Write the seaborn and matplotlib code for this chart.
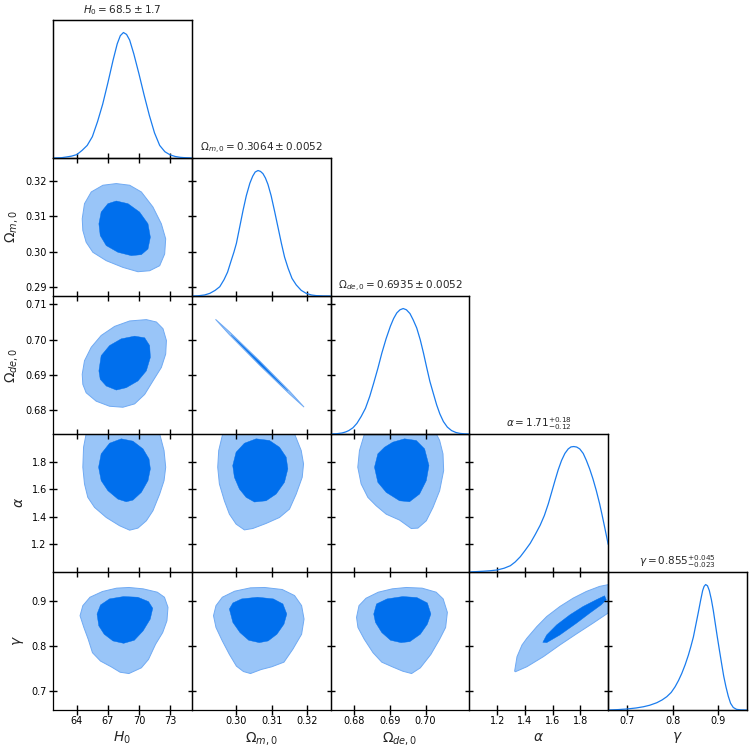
# %%
import matplotlib
matplotlib.use("Agg")
import matplotlib.pyplot as plt
import seaborn as sns

# %%
# parameters, labels and the values
labels = [r"$H_0$", r"$\Omega_{m,0}$", r"$\Omega_{de,0}$", r"$\alpha$", r"$\gamma$"]
titles = [
    r"$H_0 = 68.5\pm 1.7$",
    r"$\Omega_{m,0} = 0.3064\pm 0.0052$",
    r"$\Omega_{de,0} = 0.6935\pm 0.0052$",
    r"$\alpha = 1.71^{+0.18}_{-0.12}$",
    r"$\gamma = 0.855^{+0.045}_{-0.023}$",
]
limits = [(61.7, 75.1), (0.2874, 0.3266), (0.6733, 0.7123), (1.0, 2.0), (0.659, 0.963)]
xticks = [[64, 67, 70, 73], [0.30, 0.31, 0.32], [0.68, 0.69, 0.70], [1.2, 1.4, 1.6, 1.8], [0.7, 0.8, 0.9]]
yticks = [[64, 67, 70, 73], [0.29, 0.30, 0.31, 0.32], [0.68, 0.69, 0.70, 0.71], [1.2, 1.4, 1.6, 1.8], [0.7, 0.8, 0.9]]
tick_fmt = ["%d", "%.2f", "%.2f", "%.1f", "%.1f"]

# 1D marginals (normalised to peak = 1)
h0_grid = [61.7, 62.5, 63.0, 63.5, 64.0, 64.5, 65.0, 65.5, 66.0, 66.5, 67.0, 67.5, 67.9, 68.2, 68.5,
           68.8, 69.1, 69.5, 70.0, 70.5, 71.0, 71.5, 72.0, 72.5, 73.0, 73.5, 74.0, 74.5, 75.1]
h0_pdf = [0.0, 0.002, 0.008, 0.015, 0.027, 0.06, 0.10, 0.17, 0.29, 0.43, 0.60, 0.78, 0.91, 0.975, 1.0,
          0.985, 0.94, 0.83, 0.67, 0.50, 0.34, 0.20, 0.10, 0.05, 0.025, 0.012, 0.005, 0.002, 0.0]
om_grid = [0.2875, 0.2890, 0.2910, 0.2925, 0.2940, 0.2953, 0.2965, 0.2975, 0.2985, 0.2993, 0.3000, 0.3010,
           0.3019, 0.3028, 0.3038, 0.3046, 0.3053, 0.3061, 0.3068, 0.3075, 0.3082, 0.3089, 0.3098, 0.3108,
           0.3118, 0.3127, 0.3136, 0.3146, 0.3157, 0.3169, 0.3183, 0.3197, 0.3212, 0.3225, 0.3245, 0.3265]
om_pdf = [0.0, 0.001, 0.008, 0.021, 0.045, 0.074, 0.13, 0.19, 0.28, 0.35, 0.42, 0.56,
          0.686, 0.80, 0.899, 0.955, 0.988, 1.0, 0.993, 0.975, 0.94, 0.89, 0.80, 0.673,
          0.54, 0.42, 0.31, 0.221, 0.14, 0.088, 0.045, 0.021, 0.008, 0.003, 0.0005, 0.0]
ode_grid = [0.6733, 0.6750, 0.6765, 0.6775, 0.6784, 0.6796, 0.6807, 0.6819, 0.6831, 0.6843, 0.6854, 0.6866,
            0.6877, 0.6889, 0.6901, 0.6910, 0.6919, 0.6928, 0.6937, 0.6946, 0.6956, 0.6965, 0.6975, 0.6985,
            0.6994, 0.7003, 0.7012, 0.7022, 0.7031, 0.7040, 0.7050, 0.7061, 0.7073, 0.7085, 0.7096, 0.7110, 0.7123]
ode_pdf = [0.0, 0.002, 0.008, 0.016, 0.027, 0.05, 0.085, 0.14, 0.205, 0.30, 0.405, 0.525,
           0.645, 0.76, 0.859, 0.92, 0.965, 0.99, 1.0, 0.99, 0.96, 0.91, 0.845, 0.75,
           0.645, 0.53, 0.419, 0.32, 0.232, 0.16, 0.099, 0.055, 0.027, 0.012, 0.005, 0.001, 0.0]
alpha_grid = [1.0, 1.05, 1.10, 1.15, 1.20, 1.25, 1.295, 1.33, 1.367, 1.40, 1.438, 1.475, 1.510, 1.54, 1.569,
              1.595, 1.617, 1.64, 1.664, 1.688, 1.712, 1.732, 1.752, 1.773, 1.795, 1.82, 1.843, 1.867, 1.890,
              1.914, 1.938, 1.956, 1.974, 1.987, 2.0]
alpha_pdf = [0.0, 0.003, 0.006, 0.01, 0.016, 0.03, 0.05, 0.08, 0.122, 0.17, 0.228, 0.30, 0.373, 0.45, 0.545,
             0.645, 0.730, 0.815, 0.889, 0.945, 0.981, 0.997, 1.0, 0.996, 0.981, 0.945, 0.889, 0.82, 0.743,
             0.65, 0.545, 0.455, 0.360, 0.29, 0.22]
gamma_grid = [0.659, 0.68, 0.70, 0.72, 0.7364, 0.75, 0.7655, 0.777, 0.7873, 0.797, 0.8055, 0.813, 0.8201,
              0.8275, 0.8346, 0.840, 0.8456, 0.851, 0.8565, 0.8615, 0.8659, 0.869, 0.8725, 0.8765, 0.8805,
              0.885, 0.8892, 0.8935, 0.8980, 0.9027, 0.9074, 0.912, 0.9169, 0.922, 0.9271, 0.933, 0.9402,
              0.95, 0.963]
gamma_pdf = [0.0, 0.003, 0.008, 0.016, 0.026, 0.038, 0.058, 0.08, 0.106, 0.14, 0.185, 0.235, 0.291,
             0.36, 0.437, 0.505, 0.582, 0.68, 0.780, 0.875, 0.952, 0.985, 1.0, 0.99, 0.952,
             0.88, 0.794, 0.69, 0.582, 0.475, 0.370, 0.27, 0.185, 0.11, 0.053, 0.02, 0.005,
             0.001, 0.0]

# 2D contours (68% inner, 95% outer), (x, y) in data units
h0_om_outer = ([64.52, 64.74, 65.39, 66.52, 67.81, 69.10, 70.23, 71.35, 72.16, 72.58, 72.48, 72.00, 71.03, 69.90, 68.45, 66.84, 65.55, 64.90, 64.58],
               [0.30933, 0.31362, 0.31695, 0.31886, 0.31933, 0.31886, 0.31695, 0.31267, 0.30790, 0.30362, 0.29933, 0.29600, 0.29457, 0.29429, 0.29552, 0.29743, 0.29981, 0.30267, 0.30600])
h0_om_inner = ([66.13, 66.35, 67.00, 67.81, 68.94, 70.06, 70.87, 71.10, 70.87, 70.23, 69.26, 67.97, 66.84, 66.26],
               [0.30790, 0.31124, 0.31362, 0.31438, 0.31362, 0.31124, 0.30790, 0.30410, 0.30076, 0.29914, 0.29886, 0.29981, 0.30171, 0.30457])

h0_ode_outer = ([64.52, 64.74, 65.39, 66.35, 67.65, 69.10, 70.71, 71.68, 72.32, 72.65, 72.58, 72.16, 71.35, 70.55, 69.58, 68.45, 67.16, 65.87, 64.90, 64.58],
                [0.69019, 0.69400, 0.69781, 0.70114, 0.70371, 0.70524, 0.70562, 0.70495, 0.70305, 0.69971, 0.69590, 0.69210, 0.68829, 0.68448, 0.68181, 0.68086, 0.68114, 0.68257, 0.68495, 0.68733])
h0_ode_inner = ([66.13, 66.35, 67.16, 68.29, 69.58, 70.55, 71.03, 71.10, 70.71, 69.90, 68.77, 67.81, 66.84, 66.26],
                [0.69114, 0.69543, 0.69829, 0.70019, 0.70095, 0.70048, 0.69829, 0.69495, 0.69114, 0.68829, 0.68638, 0.68571, 0.68686, 0.68876])

om_ode_outer = ([0.2941, 0.2980, 0.3066, 0.3150, 0.3191, 0.3150, 0.3066, 0.2980],
                [0.7057, 0.7022, 0.6939, 0.6854, 0.6809, 0.6846, 0.6927, 0.7014])
om_ode_inner = ([0.2985, 0.3066, 0.3145, 0.3066],
                [0.7013, 0.6936, 0.6855, 0.6930])

h0_alpha_outer = ([65.3, 64.90, 64.65, 64.58, 64.74, 65.06, 65.71, 66.84, 68.13, 69.10, 69.90, 70.71, 71.35, 72.00, 72.42, 72.58, 72.42, 72.00, 71.6],
                  [2.06, 2.001, 1.904, 1.759, 1.638, 1.541, 1.468, 1.395, 1.335, 1.303, 1.318, 1.371, 1.444, 1.565, 1.662, 1.759, 1.880, 2.001, 2.06])
h0_alpha_inner = ([68.29, 69.42, 70.39, 70.97, 71.10, 70.87, 70.23, 69.42, 68.77, 67.97, 67.00, 66.35, 66.10, 66.35, 67.16],
                  [1.965, 1.948, 1.892, 1.819, 1.747, 1.662, 1.577, 1.521, 1.509, 1.528, 1.589, 1.662, 1.759, 1.856, 1.933])

om_alpha_outer = ([0.2970, 0.29613, 0.29500, 0.29472, 0.29519, 0.29660, 0.29802, 0.29991, 0.30226, 0.30462, 0.30840, 0.31217, 0.31500, 0.31689, 0.31858, 0.31896, 0.31830, 0.31642, 0.3155],
                  [2.06, 2.001, 1.880, 1.759, 1.638, 1.516, 1.419, 1.347, 1.305, 1.315, 1.352, 1.395, 1.456, 1.565, 1.686, 1.783, 1.880, 2.001, 2.06])
om_alpha_inner = ([0.30557, 0.30934, 0.31217, 0.31406, 0.31453, 0.31358, 0.31123, 0.30840, 0.30509, 0.30274, 0.30085, 0.29943, 0.29896, 0.29991, 0.30226],
                  [1.965, 1.953, 1.904, 1.832, 1.747, 1.650, 1.565, 1.516, 1.507, 1.541, 1.601, 1.686, 1.771, 1.868, 1.933])

ode_alpha_outer = ([0.6830, 0.68282, 0.68141, 0.68094, 0.68188, 0.68376, 0.68610, 0.68892, 0.69268, 0.69596, 0.69784, 0.70019, 0.70207, 0.70394, 0.70507, 0.70488, 0.70394, 0.70300, 0.7028],
                   [2.06, 2.001, 1.880, 1.759, 1.638, 1.541, 1.480, 1.419, 1.376, 1.315, 1.318, 1.371, 1.468, 1.589, 1.735, 1.856, 1.953, 2.001, 2.06])
ode_alpha_inner = ([0.69080, 0.69408, 0.69737, 0.69972, 0.70094, 0.70019, 0.69831, 0.69549, 0.69268, 0.68892, 0.68657, 0.68563, 0.68657, 0.68845],
                   [1.941, 1.965, 1.953, 1.892, 1.771, 1.662, 1.565, 1.509, 1.516, 1.577, 1.650, 1.759, 1.856, 1.904])

h0_gamma_outer = ([64.31, 64.58, 65.27, 66.47, 67.84, 69.03, 70.40, 71.77, 72.46, 72.80, 72.70, 72.29, 71.60, 70.92, 70.23, 69.03, 68.18, 67.32, 66.29, 65.51, 65.10, 64.68],
                  [0.8667, 0.8889, 0.9074, 0.9200, 0.9274, 0.9289, 0.9259, 0.9185, 0.9074, 0.8852, 0.8556, 0.8296, 0.8037, 0.7704, 0.7519, 0.7393, 0.7422, 0.7541, 0.7667, 0.7852, 0.8148, 0.8407])
h0_gamma_inner = ([65.95, 66.29, 67.15, 68.52, 69.89, 70.92, 71.33, 71.09, 70.40, 69.55, 68.52, 67.49, 66.64, 66.12],
                  [0.8704, 0.8904, 0.9037, 0.9089, 0.9074, 0.8978, 0.8830, 0.8593, 0.8333, 0.8126, 0.8059, 0.8111, 0.8259, 0.8444])

om_gamma_outer = ([0.29353, 0.29423, 0.29602, 0.29950, 0.30398, 0.30796, 0.31294, 0.31642, 0.31841, 0.31910, 0.31841, 0.31592, 0.31343, 0.30995, 0.30697, 0.30398, 0.30199, 0.30000, 0.29801, 0.29602, 0.29423],
                  [0.8667, 0.8889, 0.9074, 0.9207, 0.9281, 0.9289, 0.9244, 0.9111, 0.8889, 0.8593, 0.8259, 0.7926, 0.7644, 0.7541, 0.7481, 0.7393, 0.7437, 0.7556, 0.7815, 0.8111, 0.8407])
om_gamma_inner = ([0.29801, 0.29900, 0.30149, 0.30597, 0.31045, 0.31313, 0.31423, 0.31343, 0.31144, 0.30896, 0.30647, 0.30348, 0.30100, 0.29900],
                  [0.8815, 0.8948, 0.9037, 0.9074, 0.9037, 0.8926, 0.8704, 0.8481, 0.8259, 0.8111, 0.8074, 0.8126, 0.8296, 0.8519])

ode_gamma_outer = ([0.68059, 0.68128, 0.68325, 0.68670, 0.69064, 0.69458, 0.69901, 0.70296, 0.70493, 0.70611, 0.70562, 0.70394, 0.70148, 0.69852, 0.69606, 0.69360, 0.69064, 0.68768, 0.68522, 0.68276, 0.68099],
                   [0.8630, 0.8889, 0.9052, 0.9185, 0.9259, 0.9289, 0.9274, 0.9185, 0.9037, 0.8741, 0.8407, 0.8148, 0.7815, 0.7519, 0.7393, 0.7444, 0.7541, 0.7644, 0.7852, 0.8148, 0.8407])
ode_gamma_inner = ([0.68542, 0.68621, 0.68916, 0.69360, 0.69754, 0.70049, 0.70148, 0.70049, 0.69852, 0.69557, 0.69310, 0.69015, 0.68768, 0.68591],
                   [0.8704, 0.8926, 0.9037, 0.9089, 0.9067, 0.8948, 0.8704, 0.8481, 0.8259, 0.8096, 0.8074, 0.8126, 0.8296, 0.8519])

alpha_gamma_outer = ([1.326, 1.343, 1.379, 1.414, 1.486, 1.557, 1.652, 1.748, 1.843, 1.938, 1.998, 2.06, 2.06, 1.998, 1.890, 1.771, 1.652, 1.533, 1.414, 1.331],
                     [0.7447, 0.7764, 0.8022, 0.8170, 0.8428, 0.8649, 0.8870, 0.9055, 0.9202, 0.9313, 0.9350, 0.9390, 0.8760, 0.8723, 0.8501, 0.8265, 0.8022, 0.7764, 0.7543, 0.7432])
alpha_gamma_inner = ([1.529, 1.557, 1.629, 1.724, 1.819, 1.914, 1.974, 1.986, 1.950, 1.867, 1.771, 1.652, 1.557],
                     [0.8081, 0.8243, 0.8465, 0.8686, 0.8870, 0.9018, 0.9106, 0.9018, 0.8907, 0.8723, 0.8501, 0.8243, 0.8074])

# %%
DARK = "#006FED"
LIGHT = "#99C5F8"
EDGE = "#70AAF3"
LINE = "#1A7CEE"

marginals = [(h0_grid, h0_pdf), (om_grid, om_pdf), (ode_grid, ode_pdf),
             (alpha_grid, alpha_pdf), (gamma_grid, gamma_pdf)]
contours = {
    (1, 0): (h0_om_outer, h0_om_inner),
    (2, 0): (h0_ode_outer, h0_ode_inner),
    (2, 1): (om_ode_outer, om_ode_inner),
    (3, 0): (h0_alpha_outer, h0_alpha_inner),
    (3, 1): (om_alpha_outer, om_alpha_inner),
    (3, 2): (ode_alpha_outer, ode_alpha_inner),
    (4, 0): (h0_gamma_outer, h0_gamma_inner),
    (4, 1): (om_gamma_outer, om_gamma_inner),
    (4, 2): (ode_gamma_outer, ode_gamma_inner),
    (4, 3): (alpha_gamma_outer, alpha_gamma_inner),
}

sns.set_style("ticks")
plt.rcParams["font.family"] = ["DejaVu Sans"]
plt.rcParams["mathtext.fontset"] = "dejavusans"
plt.rcParams["axes.edgecolor"] = "black"
plt.rcParams["axes.linewidth"] = 0.9
plt.rcParams["axes.axisbelow"] = False

fig, axes = plt.subplots(5, 5, figsize=(7.54, 7.51), dpi=100)
fig.subplots_adjust(left=0.0703, right=0.9907, bottom=0.0546, top=0.9734, wspace=0, hspace=0)

n = len(labels)
for i in range(n):
    for j in range(n):
        ax = axes[i, j]
        if j > i:
            ax.set_visible(False)
            continue
        # transparent panels, upper/right panels on top so crossing ticks show on both sides
        ax.patch.set_visible(False)
        ax.set_zorder(10 - i + 0.1 * j)

        if i == j:
            # marginal on a twin axis so the row's y ticks stay on the spine
            grid, pdf = marginals[i]
            tw = ax.twinx()
            tw.set_zorder(ax.get_zorder() + 0.05)
            tw.patch.set_visible(False)
            sns.lineplot(x=grid, y=pdf, ax=tw, color=LINE, lw=0.9, sort=False)
            tw.set_ylim(0, 1.1)
            tw.set_yticks([])
            tw.set_xlim(limits[j])
            ax.set_title(titles[i], fontsize=7.5, pad=5)
            if i == 0:
                ax.set_yticks([])
            else:
                ax.set_ylim(limits[i])
                ax.set_yticks(yticks[i])
        else:
            outer, inner = contours[(i, j)]
            ax.fill(outer[0], outer[1], facecolor=LIGHT, edgecolor=EDGE, lw=0.7, zorder=1)
            ax.fill(inner[0], inner[1], facecolor=DARK, edgecolor=DARK, lw=0.3, zorder=1.5)
            ax.set_ylim(limits[i])
            ax.set_yticks(yticks[i])

        ax.set_xlim(limits[j])
        ax.set_xticks(xticks[j])
        ax.tick_params(axis="x", which="major", direction="inout", length=7, width=1.0,
                       color="black", labelcolor="black", labelsize=7, pad=0.5,
                       bottom=True, top=False)
        ax.tick_params(axis="y", which="major", direction="inout", length=6, width=1.0,
                       color="black", labelcolor="black", labelsize=7, pad=1.5,
                       left=True, right=False)

        if i == n - 1:
            ax.set_xticklabels([tick_fmt[j] % t for t in xticks[j]])
            ax.set_xlabel(labels[j], fontsize=10, labelpad=3)
        else:
            ax.set_xticklabels([])
        if j == 0 and i > 0:
            ax.set_yticklabels([tick_fmt[i] % t for t in yticks[i]])
            ax.set_ylabel(labels[i], fontsize=10, labelpad=4)
        elif i > 0:
            ax.set_yticklabels([])

fig.savefig("out.png", dpi=100, facecolor="white")
